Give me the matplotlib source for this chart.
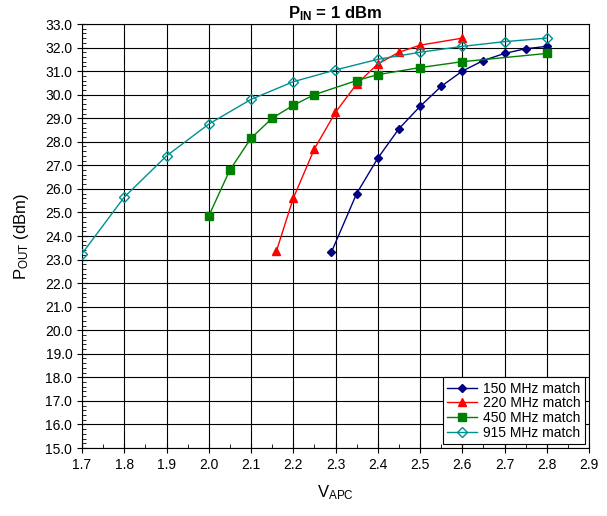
import matplotlib
matplotlib.use("Agg")
import matplotlib.pyplot as plt
from matplotlib.ticker import MultipleLocator, FormatStrFormatter

plt.rcParams["font.family"] = ["Liberation Sans", "DejaVu Sans"]
plt.rcParams["mathtext.fontset"] = "custom"
plt.rcParams["mathtext.rm"] = "Liberation Sans"
plt.rcParams["mathtext.it"] = "Liberation Sans"
plt.rcParams["mathtext.bf"] = "Liberation Sans:bold"

# V_APC (V) vs P_OUT (dBm)
v_150 = [2.29, 2.35, 2.40, 2.45, 2.50, 2.55, 2.60, 2.65, 2.70, 2.75, 2.80]
p_150 = [23.3, 25.8, 27.3, 28.55, 29.5, 30.35, 31.0, 31.45, 31.75, 31.95, 32.05]

v_220 = [2.16, 2.20, 2.25, 2.30, 2.35, 2.40, 2.45, 2.50, 2.60]
p_220 = [23.35, 25.6, 27.7, 29.25, 30.45, 31.3, 31.8, 32.1, 32.4]

v_450 = [2.00, 2.05, 2.10, 2.15, 2.20, 2.25, 2.35, 2.40, 2.50, 2.60, 2.80]
p_450 = [24.85, 26.8, 28.15, 29.0, 29.55, 30.0, 30.6, 30.85, 31.15, 31.4, 31.75]

v_915 = [1.7, 1.8, 1.9, 2.0, 2.1, 2.2, 2.3, 2.4, 2.5, 2.6, 2.7, 2.8]
p_915 = [23.25, 25.65, 27.4, 28.75, 29.8, 30.55, 31.05, 31.5, 31.8, 32.05, 32.25, 32.4]

fig = plt.figure(figsize=(6.07, 5.16), dpi=100)
ax = fig.add_axes([82 / 607, 1 - 448 / 516, (589 - 82) / 607, (448 - 24) / 516])

ax.plot(v_150, p_150, "-D", color="#000080", lw=1.0, ms=4.5, label="150 MHz match", zorder=3)
ax.plot(v_220, p_220, "-^", color="#FF0000", lw=1.0, ms=6, label="220 MHz match", zorder=3)
ax.plot(v_450, p_450, "-s", color="#008000", lw=1.0, ms=5.5, label="450 MHz match", zorder=3)
ax.plot(v_915, p_915, "-D", color="#009090", lw=1.0, ms=5.5, mfc="none", mew=1.0,
        label="915 MHz match", zorder=3)

ax.set_xlim(1.7, 2.9)
ax.set_ylim(15.0, 33.0)
ax.xaxis.set_major_locator(MultipleLocator(0.1))
ax.xaxis.set_minor_locator(MultipleLocator(0.05))
ax.yaxis.set_major_locator(MultipleLocator(1.0))
ax.yaxis.set_minor_locator(MultipleLocator(0.2))
ax.xaxis.set_major_formatter(FormatStrFormatter("%.1f"))
ax.yaxis.set_major_formatter(FormatStrFormatter("%.1f"))
ax.tick_params(which="major", direction="inout", length=7, labelsize=10, width=0.8)
ax.tick_params(which="minor", direction="in", length=3, width=0.6)
ax.grid(True, which="major", color="black", lw=0.8)
for s in ax.spines.values():
    s.set_linewidth(0.8)

ax.set_xlabel(r"V$_{\mathrm{APC}}$", fontsize=12, labelpad=8)
ax.set_ylabel(r"P$_{\mathrm{OUT}}$ (dBm)", fontsize=12, labelpad=10)
ax.set_title(r"$\mathbf{P_{IN}}$ = 1 dBm", fontsize=12, fontweight="bold", pad=4)

leg = ax.legend(loc="lower right", fontsize=10, fancybox=False, framealpha=1,
                edgecolor="black", borderpad=0.3, labelspacing=0.05, handlelength=2.2,
                handletextpad=0.4, borderaxespad=0.3)
leg.get_frame().set_linewidth(0.8)

fig.savefig("out.png", dpi=100)
